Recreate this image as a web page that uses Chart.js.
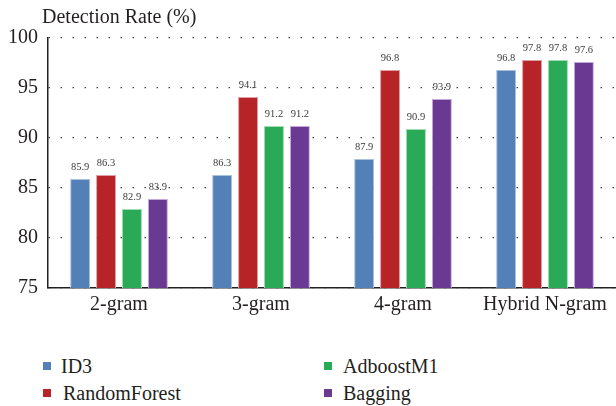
<!DOCTYPE html>
<html>
<head>
<meta charset="utf-8">
<script src="https://cdn.jsdelivr.net/npm/chart.js@4.4.0/dist/chart.umd.min.js"></script>
<style>
  html, body { margin: 0; padding: 0; background: #fff; }
  body { width: 616px; height: 406px; position: relative; overflow: hidden;
         font-family: "Liberation Serif", "DejaVu Serif", serif; color: #231f20; }
  #wrap { position: absolute; left: 0; top: 0; width: 616px; height: 320px; }
  #title { position: absolute; left: 42px; top: 6px; font-size: 20px; line-height: 20px; white-space: nowrap; }
  .lg { position: absolute; font-size: 20px; line-height: 20px; white-space: nowrap; }
  .sw { position: absolute; width: 8px; height: 8px; }
</style>
</head>
<body>
<div id="wrap"><canvas id="c" width="616" height="320"></canvas></div>
<div id="title">Detection Rate (%)</div>
<div id="legend"></div>
<script>
const categories = ['2-gram', '3-gram', '4-gram', 'Hybrid N-gram'];
const seriesNames = ['ID3', 'RandomForest', 'AdboostM1', 'Bagging'];
const id3 = [85.9, 86.3, 87.9, 96.8];
const randomForest = [86.3, 94.1, 96.8, 97.8];
const adboostM1 = [82.9, 91.2, 90.9, 97.8];
const bagging = [83.9, 91.2, 93.9, 97.6];
const yTicks = [75, 80, 85, 90, 95, 100];

const fills = ['#5380b7', '#b72428', '#2aa957', '#6a3a93'];
const edges = ['#a9c0de', '#e0a0a2', '#9fdcb4', '#c3a8dc'];
const values = [id3, randomForest, adboostM1, bagging];

const valueLabels = {
  id: 'valueLabels',
  afterDatasetsDraw(chart) {
    const ctx = chart.ctx;
    ctx.save();
    ctx.font = '10.5px "Liberation Serif", serif';
    ctx.fillStyle = '#3a3a3a';
    ctx.textAlign = 'center';
    ctx.textBaseline = 'middle';
    chart.data.datasets.forEach((ds, i) => {
      chart.getDatasetMeta(i).data.forEach((el, j) => {
        ctx.fillText(ds.data[j].toFixed(1), el.x, el.y - 12);
      });
    });
    ctx.restore();
  }
};

const chart = new Chart(document.getElementById('c'), {
  type: 'bar',
  data: {
    labels: categories,
    datasets: seriesNames.map((name, i) => ({
      label: name,
      data: values[i],
      backgroundColor: fills[i],
      borderColor: edges[i],
      borderWidth: 1,
      categoryPercentage: 0.73,
      barPercentage: 0.77
    }))
  },
  options: {
    responsive: false,
    animation: false,
    layout: { padding: { top: 38, right: 0, left: 0, bottom: 0 } },
    plugins: { legend: { display: false }, tooltip: { enabled: false }, title: { display: false } },
    scales: {
      x: {
        grid: { display: false, drawTicks: false },
        border: { display: true, color: '#231f20', width: 1.5 },
        ticks: { color: '#231f20', padding: 5, maxRotation: 0, autoSkip: false,
                 font: { family: '"Liberation Serif", serif', size: 20 } },
        afterFit(scale) { scale.height = 32; }
      },
      y: {
        min: yTicks[0],
        max: yTicks[yTicks.length - 1],
        afterBuildTicks(scale) { scale.ticks = yTicks.map(v => ({ value: v })); },
        grid: { color: '#444', lineWidth: 1.2, drawTicks: false },
        border: { display: true, color: '#231f20', width: 1.5, dash: [1.5, 10.5] },
        ticks: { color: '#231f20', padding: 10,
                 font: { family: '"Liberation Serif", serif', size: 20 } },
        afterFit(scale) { scale.width = 48; }
      }
    }
  },
  plugins: [valueLabels]
});

// Two-column legend below the chart, built from the chart's datasets
const legendSlots = [
  { sx: 43, sy: 362, tx: 61, ty: 356 },
  { sx: 43, sy: 389, tx: 63, ty: 383 },
  { sx: 324, sy: 362, tx: 343, ty: 356 },
  { sx: 324, sy: 389, tx: 343, ty: 383 }
];
const legend = document.getElementById('legend');
chart.data.datasets.forEach((ds, i) => {
  const s = legendSlots[i];
  const sw = document.createElement('div');
  sw.className = 'sw';
  sw.style.left = s.sx + 'px';
  sw.style.top = s.sy + 'px';
  sw.style.background = ds.backgroundColor;
  legend.appendChild(sw);
  const t = document.createElement('div');
  t.className = 'lg';
  t.style.left = s.tx + 'px';
  t.style.top = s.ty + 'px';
  t.textContent = ds.label;
  legend.appendChild(t);
});
</script>
</body>
</html>
